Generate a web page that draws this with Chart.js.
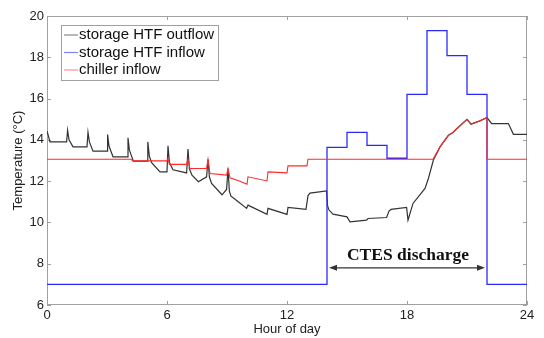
<!DOCTYPE html>
<html>
<head>
<meta charset="utf-8">
<script src="https://cdn.jsdelivr.net/npm/chart.js@4"></script>
<style>
  html, body { margin: 0; padding: 0; background: #fff; }
</style>
</head>
<body>
<canvas id="chart" width="544" height="338"></canvas>
<script>
// --- data ---
const xTicks = [0, 6, 12, 18, 24];
const yTicks = [6, 8, 10, 12, 14, 16, 18, 20];

// storage HTF outflow (black)
const outflowHours = [0, 0.15, 0.98, 1.03, 1.1, 1.3, 2.0, 2.05, 2.12, 2.3, 3.0, 3.03, 3.1, 3.3,
  4.0, 4.05, 4.12, 4.32, 5.0, 5.04, 5.12, 5.23, 5.65, 6.0, 6.05, 6.12, 6.3, 6.98, 7.05, 7.12,
  7.25, 7.57, 7.98, 8.05, 8.12, 8.23, 8.75, 8.98, 9.05, 9.12, 9.2, 9.5, 9.98, 10.05, 11.0,
  11.05, 12.0, 12.05, 12.95, 13.05, 13.15, 13.98, 14.03, 14.1, 14.3, 15.0, 15.15, 15.98,
  16.05, 16.98, 17.1, 17.2, 17.98, 18.05, 18.3, 18.9, 19.07, 19.32, 19.65, 20.07, 20.3,
  20.5, 21.0, 21.2, 21.65, 22.0, 22.23, 23.07, 23.32, 24];
const outflowTemps = [14.43, 13.9, 13.9, 14.47, 14.0, 13.66, 13.66, 14.36, 13.9, 13.45, 13.45, 14.26, 13.7, 13.18,
  13.18, 14.1, 13.5, 12.97, 12.97, 13.9, 13.2, 12.9, 12.45, 12.45, 13.71, 12.9, 12.55, 12.4, 13.55, 12.6,
  12.29, 11.97, 12.21, 13.06, 12.2, 11.89, 11.34, 11.6, 12.61, 11.5, 11.27, 11.05, 10.68, 10.84, 10.39,
  10.68, 10.39, 10.73, 10.63, 11.3, 11.42, 11.53, 10.8, 10.6, 10.4, 10.27, 10.03, 10.11,
  10.19, 10.24, 10.55, 10.63, 10.73, 10.11, 10.92, 11.65, 12.13, 13.02, 13.66, 14.22, 14.36,
  14.55, 14.99, 14.76, 14.92, 15.08, 14.79, 14.79, 14.27, 14.27];

// storage HTF inflow (blue, hourly steps)
const inflowHours = [0, 14, 15, 16, 17, 18, 19, 20, 21, 22, 24];
const inflowTemps = [7, 13.64, 14.36, 13.73, 13.11, 16.2, 19.29, 18.08, 16.2, 7, 7];

// chiller inflow (red)
const chillerHours = [0, 4.2, 4.3, 6.0, 6.05, 6.12, 6.98, 7.05, 7.15, 7.98, 8.05, 8.15, 8.98,
  9.05, 9.15, 9.65, 10.0, 10.05, 11.0, 11.05, 12.0, 12.05, 13.0, 13.05, 19.3, 19.65, 20.07,
  20.3, 20.5, 21.0, 21.2, 21.65, 22.0, 22.0, 24];
const chillerTemps = [13.06, 13.06, 12.98, 12.98, 13.1, 12.81, 12.81, 13.06, 12.61, 12.61, 13.06, 12.37, 12.29,
  12.61, 12.16, 12.0, 11.85, 12.21, 12.01, 12.45, 12.4, 12.74, 12.74, 13.06, 13.06, 13.66, 14.22,
  14.36, 14.55, 14.99, 14.76, 14.92, 15.08, 13.06, 13.06];

const dischargeStart = 14;
const dischargeEnd = 22;
const dischargeLabel = 'CTES discharge';
const arrowTemp = 7.8;

const toPoints = (xs, ys) => xs.map((x, i) => ({ x: x, y: ys[i] }));

const axisGray = '#a0a0a0';
const sansFont = '"Liberation Sans", Arial, sans-serif';

// box, inward ticks, legend and the discharge arrow
const decorations = {
  id: 'decorations',
  beforeDatasetsDraw(chart) {
    const { ctx, chartArea: a, scales } = chart;
    ctx.save();
    ctx.strokeStyle = axisGray;
    ctx.lineWidth = 1;
    ctx.strokeRect(a.left + 0.5, a.top + 0.5, a.right - a.left - 1, a.bottom - a.top - 1);
    ctx.beginPath();
    xTicks.forEach(t => {
      const px = Math.round(scales.x.getPixelForValue(t)) + 0.5;
      ctx.moveTo(px, a.bottom); ctx.lineTo(px, a.bottom - 4);
      ctx.moveTo(px, a.top); ctx.lineTo(px, a.top + 4);
    });
    yTicks.forEach(t => {
      const py = Math.round(scales.y.getPixelForValue(t)) + 0.5;
      ctx.moveTo(a.left, py); ctx.lineTo(a.left + 4, py);
      ctx.moveTo(a.right, py); ctx.lineTo(a.right - 4, py);
    });
    ctx.stroke();
    ctx.restore();
  },
  afterDatasetsDraw(chart) {
    const { ctx, chartArea: a, scales } = chart;
    ctx.save();

    // discharge arrow
    const x1 = scales.x.getPixelForValue(dischargeStart) + 2;
    const x2 = scales.x.getPixelForValue(dischargeEnd) - 2;
    const ya = scales.y.getPixelForValue(arrowTemp);
    ctx.strokeStyle = '#333';
    ctx.fillStyle = '#333';
    ctx.lineWidth = 1.2;
    ctx.beginPath();
    ctx.moveTo(x1 + 4, ya); ctx.lineTo(x2 - 4, ya);
    ctx.stroke();
    ctx.beginPath();
    ctx.moveTo(x1, ya); ctx.lineTo(x1 + 8, ya - 3); ctx.lineTo(x1 + 8, ya + 3); ctx.closePath();
    ctx.moveTo(x2, ya); ctx.lineTo(x2 - 8, ya - 3); ctx.lineTo(x2 - 8, ya + 3); ctx.closePath();
    ctx.fill();
    ctx.fillStyle = '#111';
    ctx.font = 'bold 17.5px "Liberation Serif", "Times New Roman", serif';
    ctx.textAlign = 'center';
    ctx.textBaseline = 'alphabetic';
    ctx.fillText(dischargeLabel, (x1 + x2) / 2 + 1, ya - 8);

    // legend
    const lx = a.left + 14, ly = a.top + 8.5;
    ctx.font = '15px ' + sansFont;
    const labels = chart.data.datasets.map(d => d.label);
    const w = Math.max(...labels.map(l => ctx.measureText(l).width)) + 22;
    ctx.fillStyle = '#fff';
    ctx.fillRect(lx, ly, w, 55);
    ctx.strokeStyle = axisGray;
    ctx.lineWidth = 1;
    ctx.strokeRect(Math.round(lx) + 0.5, Math.round(ly) + 0.5, Math.round(w), 55);
    ctx.textAlign = 'left';
    ctx.textBaseline = 'middle';
    chart.data.datasets.forEach((d, i) => {
      const ry = ly + 10.5 + i * 17.5;
      ctx.strokeStyle = d.legendColor;
      ctx.lineWidth = 1.2;
      ctx.beginPath();
      ctx.moveTo(lx + 3, ry); ctx.lineTo(lx + 17, ry);
      ctx.stroke();
      ctx.fillStyle = '#111';
      ctx.fillText(d.label, lx + 18, ry);
    });
    ctx.restore();
  }
};

new Chart(document.getElementById('chart'), {
  type: 'scatter',
  data: {
    datasets: [
      {
        label: 'storage HTF outflow',
        data: toPoints(outflowHours, outflowTemps),
        showLine: true,
        borderColor: '#333333',
        legendColor: '#888888',
        borderWidth: 1.2,
        pointRadius: 0,
        order: 3
      },
      {
        label: 'storage HTF inflow',
        data: toPoints(inflowHours, inflowTemps),
        showLine: true,
        stepped: true,
        borderColor: '#2a2aff',
        legendColor: '#8080ff',
        borderWidth: 1.3,
        pointRadius: 0,
        order: 2
      },
      {
        label: 'chiller inflow',
        data: toPoints(chillerHours, chillerTemps),
        showLine: true,
        borderColor: '#ff2a2a',
        legendColor: '#ff9090',
        borderWidth: 1.1,
        pointRadius: 0,
        order: 1
      }
    ]
  },
  options: {
    responsive: false,
    animation: false,
    layout: { padding: { top: 16, right: 17 } },
    plugins: {
      legend: { display: false },
      tooltip: { enabled: false }
    },
    scales: {
      x: {
        type: 'linear',
        min: 0,
        max: 24,
        afterBuildTicks: s => { s.ticks = xTicks.map(v => ({ value: v })); },
        afterFit: s => { s.height = 33; },
        grid: { display: false, drawTicks: false },
        border: { display: false },
        ticks: { color: '#222', font: { family: sansFont, size: 13 }, padding: 3, maxRotation: 0 },
        title: { display: true, text: 'Hour of day', color: '#222', font: { family: sansFont, size: 13 }, padding: { top: 0, bottom: 1 } }
      },
      y: {
        min: 6,
        max: 20,
        afterBuildTicks: s => { s.ticks = yTicks.map(v => ({ value: v })); },
        afterFit: s => { s.width = 47; },
        grid: { display: false, drawTicks: false },
        border: { display: false },
        ticks: { color: '#222', font: { family: sansFont, size: 13 }, padding: 3 },
        title: { display: true, text: 'Temperature (°C)', color: '#222', font: { family: sansFont, size: 13 }, padding: { top: 11, bottom: 0 } }
      }
    }
  },
  plugins: [decorations]
});
</script>
</body>
</html>
